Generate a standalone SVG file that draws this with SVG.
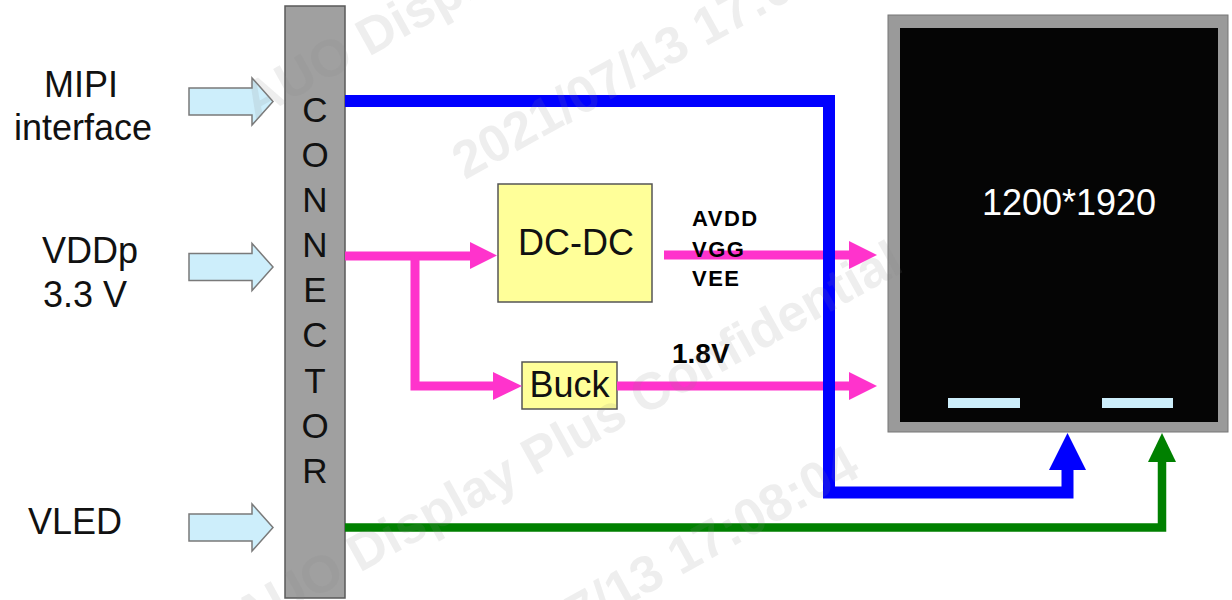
<svg xmlns="http://www.w3.org/2000/svg" width="1232" height="600" viewBox="0 0 1232 600">
<style>
  .lbl { font-family: "Liberation Sans", Arial, sans-serif; font-size: 36px; fill: #111; }
  .conn { font-family: "Liberation Sans", Arial, sans-serif; font-size: 35px; fill: #111; text-anchor: middle; }
  .sig { font-family: "Liberation Sans", Arial, sans-serif; font-weight: bold; fill: #000; }
  .box { fill: #ffff99; stroke: #555; stroke-width: 1.5; }
  .inarrow { fill: #cdeefb; stroke: #7a7a7a; stroke-width: 1.5; }
  .pink { fill: none; stroke: #ff33cc; stroke-width: 9; }
  .pinkhead { fill: #ff33cc; }
  .wm { font-family: "Liberation Sans", Arial, sans-serif; font-weight: bold; font-size: 52px; fill: #888; fill-opacity: 0.14; }
</style>
<defs>
  <polygon id="inArrow" class="inarrow" points="189,-13.5 252,-13.5 252,-23.5 273,0 252,23.5 252,13.5 189,13.5"/>
</defs>
<rect x="0" y="0" width="1232" height="600" fill="#fff"/>

<g id="input-mipi">
  <text class="lbl" x="81" y="97" text-anchor="middle">MIPI</text>
  <text class="lbl" x="83" y="140" text-anchor="middle">interface</text>
  <use href="#inArrow" transform="translate(0,101.5)"/>
</g>
<g id="input-vddp">
  <text class="lbl" x="90" y="263" text-anchor="middle">VDDp</text>
  <text class="lbl" x="85" y="307" text-anchor="middle">3.3 V</text>
  <use href="#inArrow" transform="translate(0,267)"/>
</g>
<g id="input-vled">
  <text class="lbl" x="75" y="534" text-anchor="middle">VLED</text>
  <use href="#inArrow" transform="translate(0,527.5)"/>
</g>

<g id="connector">
  <rect x="285" y="6" width="60" height="592" fill="#a0a0a0" stroke="#5a5a5a" stroke-width="1.5"/>
  <text class="conn" x="315" y="122">C</text>
  <text class="conn" x="315" y="167">O</text>
  <text class="conn" x="315" y="212">N</text>
  <text class="conn" x="315" y="257">N</text>
  <text class="conn" x="315" y="302">E</text>
  <text class="conn" x="315" y="347">C</text>
  <text class="conn" x="315" y="393">T</text>
  <text class="conn" x="315" y="438">O</text>
  <text class="conn" x="315" y="483">R</text>
</g>

<g id="dcdc">
  <rect class="box" x="498" y="184" width="154" height="118"/>
  <text class="lbl" x="576" y="255" text-anchor="middle">DC-DC</text>
</g>
<g id="buck">
  <rect class="box" x="522" y="362" width="95" height="47"/>
  <text class="lbl" x="569.5" y="397" text-anchor="middle">Buck</text>
</g>

<g id="display">
  <rect x="888" y="15" width="340" height="417" fill="#9a9a9a" stroke="#777" stroke-width="1"/>
  <rect x="900" y="28" width="318" height="394" fill="#050505"/>
  <text x="1069" y="215" text-anchor="middle" font-family="Liberation Sans, Arial, sans-serif" font-size="36" fill="#fff">1200*1920</text>
  <rect x="948" y="398" width="72" height="10" fill="#cdeefb"/>
  <rect x="1102" y="398" width="71" height="10" fill="#cdeefb"/>
</g>

<g id="connectors">
  <path class="pink" d="M345,256 H473"/>
  <polygon class="pinkhead" points="470,242 497,255.5 470,269"/>
  <path class="pink" d="M415,256 V386 H496"/>
  <polygon class="pinkhead" points="493,372 522,386 493,400"/>
  <path class="pink" d="M664,255 H852"/>
  <polygon class="pinkhead" points="849,241 877,255 849,269"/>
  <path class="pink" d="M617,386 H852"/>
  <polygon class="pinkhead" points="849,372 877,386 849,400"/>

  <path d="M345,101 H829 V492.5 H1067.5 V466" fill="none" stroke="#0000ff" stroke-width="12"/>
  <polygon points="1049,470 1067.5,433 1086,470" fill="#0000ff"/>

  <path d="M345,527.5 H1162 V458" fill="none" stroke="#008000" stroke-width="8.5"/>
  <polygon points="1148,462 1162,433 1176,462" fill="#008000"/>
</g>

<g id="labels">
  <text class="sig" x="692" y="226" font-size="22" letter-spacing="1.5">AVDD</text>
  <text class="sig" x="692" y="257" font-size="22" letter-spacing="1.5">VGG</text>
  <text class="sig" x="692" y="286" font-size="22" letter-spacing="1.5">VEE</text>
  <text class="sig" x="672" y="363" font-size="28">1.8V</text>
</g>

<g id="watermark">
  <g transform="translate(255,120) rotate(-29)">
    <text class="wm" x="0" y="0">AUO Display Plus Confidential</text>
  </g>
  <g transform="translate(465,180) rotate(-29)">
    <text class="wm" x="0" y="0">2021/07/13 17:08:04</text>
  </g>
  <g transform="translate(246,636) rotate(-29)">
    <text class="wm" x="0" y="0">AUO Display Plus Confidential</text>
  </g>
  <g transform="translate(440,709) rotate(-29)">
    <text class="wm" x="0" y="0">2021/07/13 17:08:04</text>
  </g>
</g>
</svg>
